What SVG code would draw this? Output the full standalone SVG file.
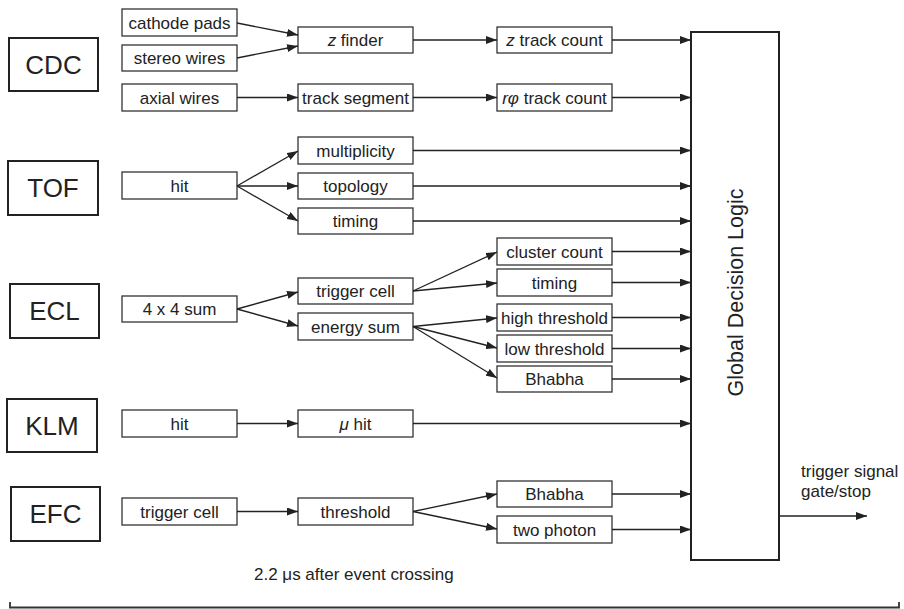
<svg xmlns="http://www.w3.org/2000/svg" width="904" height="609" viewBox="0 0 904 609">
<style>
.det rect{fill:#fff;stroke:#222;stroke-width:2}
.det text{font-family:"Liberation Sans",Arial,sans-serif;font-size:26px;fill:#222;text-anchor:middle}
.nd rect{fill:#fff;stroke:#333;stroke-width:1.3}
.nd text{font-family:"Liberation Sans",Arial,sans-serif;font-size:17px;fill:#222;text-anchor:middle}
.lbl{font-family:"Liberation Sans",Arial,sans-serif;font-size:17px;fill:#222}
#connectors path{fill:none;stroke:#222;stroke-width:1.3;marker-end:url(#ah)}
</style>
<defs>
<marker id="ah" markerUnits="userSpaceOnUse" markerWidth="11" markerHeight="8" refX="11" refY="4" orient="auto">
<path d="M0,0 L11,4 L0,8 z" fill="#222"/>
</marker>
</defs>
<rect width="904" height="609" fill="#fff"/>

<g id="CDC" class="det"><rect x="9" y="38" width="89" height="53"/><text x="53.5" y="74">CDC</text></g>
<g id="TOF" class="det"><rect x="8" y="161" width="90" height="54"/><text x="53" y="197">TOF</text></g>
<g id="ECL" class="det"><rect x="10" y="284" width="89" height="54"/><text x="54.5" y="320">ECL</text></g>
<g id="KLM" class="det"><rect x="7" y="399" width="90" height="53"/><text x="52" y="435">KLM</text></g>
<g id="EFC" class="det"><rect x="11" y="487" width="89" height="54"/><text x="55.5" y="523">EFC</text></g>

<g id="cathode_pads" class="nd"><rect x="122" y="9" width="115" height="27"/><text x="179.5" y="28.5">cathode pads</text></g>
<g id="stereo_wires" class="nd"><rect x="122" y="45" width="115" height="26"/><text x="179.5" y="64">stereo wires</text></g>
<g id="axial_wires" class="nd"><rect x="122" y="84" width="115" height="27"/><text x="179.5" y="103.5">axial wires</text></g>
<g id="tof_hit" class="nd"><rect x="122" y="172" width="115" height="27"/><text x="179.5" y="191.5">hit</text></g>
<g id="sum4x4" class="nd"><rect x="122" y="296" width="115" height="26"/><text x="179.5" y="315">4 x 4 sum</text></g>
<g id="klm_hit" class="nd"><rect x="122" y="410" width="115" height="27"/><text x="179.5" y="429.5">hit</text></g>
<g id="efc_trigger_cell" class="nd"><rect x="122" y="498" width="115" height="27"/><text x="179.5" y="517.5">trigger cell</text></g>

<g id="z_finder" class="nd"><rect x="298" y="27" width="115" height="26"/><text x="355.5" y="46"><tspan font-style="italic">z</tspan> finder</text></g>
<g id="track_segment" class="nd"><rect x="298" y="84" width="115" height="27"/><text x="355.5" y="103.5">track segment</text></g>
<g id="multiplicity" class="nd"><rect x="298" y="137" width="115" height="27"/><text x="355.5" y="156.5">multiplicity</text></g>
<g id="topology" class="nd"><rect x="298" y="173" width="115" height="26"/><text x="355.5" y="192">topology</text></g>
<g id="tof_timing" class="nd"><rect x="298" y="208" width="115" height="26"/><text x="355.5" y="227">timing</text></g>
<g id="ecl_trigger_cell" class="nd"><rect x="298" y="278" width="115" height="26"/><text x="355.5" y="297">trigger cell</text></g>
<g id="energy_sum" class="nd"><rect x="298" y="313" width="115" height="27"/><text x="355.5" y="332.5">energy sum</text></g>
<g id="mu_hit" class="nd"><rect x="298" y="410" width="115" height="27"/><text x="355.5" y="429.5"><tspan font-style="italic">μ</tspan> hit</text></g>
<g id="threshold" class="nd"><rect x="298" y="498" width="115" height="27"/><text x="355.5" y="517.5">threshold</text></g>

<g id="z_track_count" class="nd"><rect x="497" y="27" width="115" height="26"/><text x="554.5" y="46"><tspan font-style="italic">z</tspan> track count</text></g>
<g id="rphi_track_count" class="nd"><rect x="497" y="84" width="115" height="27"/><text x="554.5" y="103.5"><tspan font-style="italic">rφ</tspan> track count</text></g>
<g id="cluster_count" class="nd"><rect x="497" y="238" width="115" height="27"/><text x="554.5" y="257.5">cluster count</text></g>
<g id="ecl_timing" class="nd"><rect x="497" y="269" width="115" height="27"/><text x="554.5" y="288.5">timing</text></g>
<g id="high_threshold" class="nd"><rect x="497" y="304" width="115" height="27"/><text x="554.5" y="323.5">high threshold</text></g>
<g id="low_threshold" class="nd"><rect x="497" y="335" width="115" height="27"/><text x="554.5" y="354.5">low threshold</text></g>
<g id="ecl_bhabha" class="nd"><rect x="497" y="366" width="115" height="26"/><text x="554.5" y="385">Bhabha</text></g>
<g id="efc_bhabha" class="nd"><rect x="497" y="481" width="115" height="26"/><text x="554.5" y="500">Bhabha</text></g>
<g id="two_photon" class="nd"><rect x="497" y="516" width="115" height="27"/><text x="554.5" y="535.5">two photon</text></g>

<g id="gdl"><rect x="691" y="32" width="88" height="528" fill="#fff" stroke="#222" stroke-width="2"/>
<text transform="translate(743,292.5) rotate(-90)" font-family="Liberation Sans, Arial, sans-serif" font-size="21.5" fill="#222" text-anchor="middle">Global Decision Logic</text></g>

<g id="connectors">
<path d="M237,23 L298,35"/>
<path d="M237,58 L298,46"/>
<path d="M237,97.5 L298,97.5"/>
<path d="M413,40 L497,40"/>
<path d="M413,97.5 L497,97.5"/>
<path d="M612,40 L691,40"/>
<path d="M612,97.5 L691,97.5"/>
<path d="M237,186 L298,151"/>
<path d="M237,186 L298,186"/>
<path d="M237,186 L298,221"/>
<path d="M413,150.5 L691,150.5"/>
<path d="M413,186 L691,186"/>
<path d="M413,221 L691,221"/>
<path d="M237,309 L298,292"/>
<path d="M237,309 L298,326"/>
<path d="M413,291 L497,252"/>
<path d="M413,291 L497,283"/>
<path d="M413,326.5 L497,318"/>
<path d="M413,326.5 L497,348"/>
<path d="M413,326.5 L497,378"/>
<path d="M612,251.5 L691,251.5"/>
<path d="M612,282.5 L691,282.5"/>
<path d="M612,317.5 L691,317.5"/>
<path d="M612,348.5 L691,348.5"/>
<path d="M612,379 L691,379"/>
<path d="M237,423.5 L298,423.5"/>
<path d="M413,423.5 L691,423.5"/>
<path d="M237,511.5 L298,511.5"/>
<path d="M413,511.5 L497,494"/>
<path d="M413,511.5 L497,529"/>
<path d="M612,494 L691,494"/>
<path d="M612,529.5 L691,529.5"/>
<path d="M779,516 L867,516"/>
</g>

<text class="lbl" x="801" y="477">trigger signal</text>
<text class="lbl" x="801" y="497">gate/stop</text>
<text class="lbl" x="254" y="580">2.2 μs after event crossing</text>
<path d="M10,602 L10,607.5 L899,607.5 L899,602" fill="none" stroke="#333" stroke-width="1.8"/>
</svg>
